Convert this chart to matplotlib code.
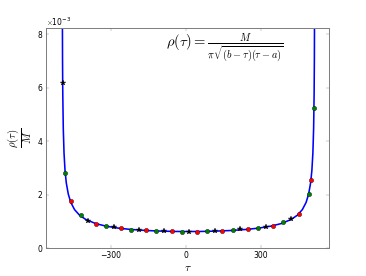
import numpy as np
import matplotlib
matplotlib.use('Agg')
import matplotlib.pyplot as plt

# theoretical curve (units of 1e-3)
tau_curve = [-494.5, -494, -493, -492, -490, -487, -483, -478, -470, -460, -445,
             -425, -400, -360, -320, -270, -220, -160, -100, -40, 10, 60, 120,
             180, 240, 290, 340, 380, 420, 445, 465, 480, 490, 498, 503, 507,
             510, 512, 513, 514, 514.5]
rho_curve = [14.2, 10.0, 7.09, 5.79, 4.49, 3.56, 2.91, 2.45, 2.03, 1.72, 1.45,
             1.24, 1.08, 0.926, 0.833, 0.757, 0.708, 0.669, 0.646, 0.633, 0.630,
             0.633, 0.646, 0.669, 0.708, 0.757, 0.833, 0.926, 1.08, 1.24, 1.45,
             1.72, 2.03, 2.45, 2.91, 3.56, 4.49, 5.79, 7.09, 10.0, 14.2]

# simulated points
tau_star = [-492, -390, -289, -187, -87, 14, 116, 217, 318, 419]
rho_star = [6.17, 1.04, 0.79, 0.70, 0.66, 0.63, 0.65, 0.71, 0.80, 1.10]

tau_green = [-483, -421, -320, -219, -118, -17, 85, 186, 288, 389, 490, 513]
rho_green = [2.80, 1.23, 0.83, 0.70, 0.65, 0.63, 0.64, 0.67, 0.77, 0.98, 2.03, 5.25]

tau_red = [-461, -360, -259, -158, -56, 45, 146, 248, 349, 450, 500]
rho_red = [1.76, 0.92, 0.76, 0.67, 0.635, 0.63, 0.655, 0.72, 0.84, 1.30, 2.56]

plt.style.use('classic')
fig = plt.figure(figsize=(8, 6.033), dpi=45.75)
ax = fig.add_subplot(111)

ax.plot(tau_curve, np.array(rho_curve) * 1e-3, 'b-', lw=2.5)
ax.plot(tau_star, np.array(rho_star) * 1e-3, 'k*', ms=9, mew=0.5)
ax.plot(tau_green, np.array(rho_green) * 1e-3, 'o', color='g', ms=7, mec='k', mew=0.5)
ax.plot(tau_red, np.array(rho_red) * 1e-3, 'o', color='r', ms=7, mec='k', mew=0.5)

ax.text(-80, 7.45e-3, r'$\rho(\tau)=\frac{M}{\pi\sqrt{(b-\tau)(\tau-a)}}$',
        fontsize=23, ha='left', va='center')

ax.set_xlim(-560, 573)
ax.set_ylim(0, 0.00825)
ax.set_xticks([-300, 0, 300])
ax.set_yticks([0, 0.002, 0.004, 0.006, 0.008])
ax.ticklabel_format(axis='y', style='sci', scilimits=(0, 0), useMathText=True)
ax.set_xlabel(r'$\tau$', fontsize=18)
ax.set_ylabel(r'$\frac{\rho(\tau)}{M}$', fontsize=24)

for s in ax.spines.values():
    s.set_color('0.5')
    s.set_linewidth(1.6)
ax.tick_params(color='0.4')

fig.savefig('out.png', dpi=45.75)
